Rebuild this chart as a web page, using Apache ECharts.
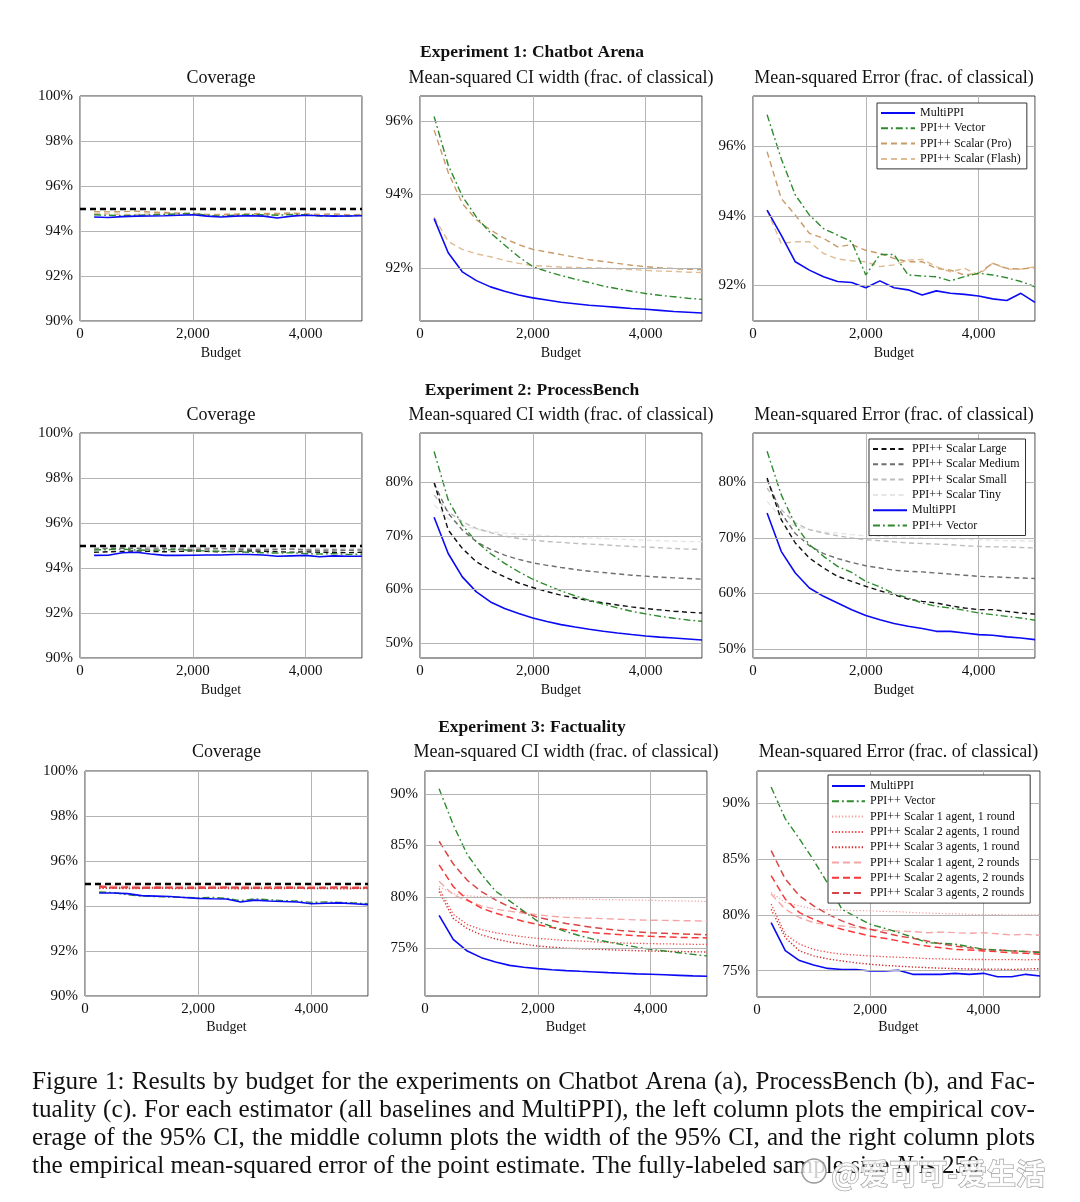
<!DOCTYPE html>
<html>
<head>
<meta charset="utf-8">
<script src="https://cdn.jsdelivr.net/npm/echarts@6/dist/echarts.min.js"></script>
<style>
html,body{margin:0;padding:0;background:#fff;}
#c{width:1080px;height:1202px;}
</style>
</head>
<body>
<div id="c"></div>
<script>
// ---------------- DATA ----------------
const budget = [250,500,750,1000,1250,1500,1750,2000,2250,2500,2750,3000,3250,3500,3750,4000,4250,4500,4750,5000];
const xTicks = [0,2000,4000];
const covTicks = [90,92,94,96,98,100];
const ci1Ticks = [92,94,96];
const mse1Ticks = [92,94,96];
const ci2Ticks = [50,60,70,80];
const mse2Ticks = [50,60,70,80];
const ci3Ticks = [75,80,85,90];
const mse3Ticks = [75,80,85,90];
const targetCoverage = 95;

// Experiment 1: Chatbot Arena
const cov1_multi  = [94.62,94.60,94.64,94.66,94.67,94.68,94.70,94.72,94.66,94.62,94.66,94.68,94.66,94.58,94.66,94.70,94.68,94.66,94.67,94.68];
const cov1_vector = [94.72,94.70,94.68,94.70,94.72,94.74,94.76,94.78,94.70,94.66,94.70,94.72,94.72,94.70,94.74,94.72,94.66,94.68,94.66,94.70];
const cov1_pro    = [94.86,94.85,94.86,94.88,94.84,94.82,94.80,94.78,94.74,94.72,94.74,94.76,94.78,94.78,94.80,94.76,94.74,94.76,94.72,94.74];
const cov1_flash  = [94.78,94.76,94.74,94.74,94.76,94.78,94.76,94.74,94.72,94.74,94.76,94.74,94.72,94.74,94.76,94.74,94.72,94.74,94.70,94.72];

const ci1_multi  = [93.34,92.41,91.89,91.65,91.48,91.36,91.26,91.18,91.12,91.06,91.02,90.98,90.95,90.92,90.89,90.87,90.84,90.81,90.79,90.77];
const ci1_vector = [96.12,94.80,93.95,93.38,92.95,92.62,92.30,92.03,91.90,91.79,91.69,91.60,91.50,91.43,91.36,91.30,91.25,91.21,91.17,91.14];
const ci1_pro    = [95.75,94.60,93.75,93.31,93.03,92.80,92.63,92.50,92.43,92.36,92.29,92.22,92.17,92.12,92.07,92.03,92.00,91.98,91.96,91.95];
const ci1_flash  = [93.38,92.72,92.50,92.38,92.30,92.20,92.12,92.06,92.04,92.02,92.01,92.00,91.99,91.97,91.95,91.93,91.91,91.90,91.88,91.87];

const mse1_multi  = [94.16,93.44,92.67,92.43,92.24,92.10,92.07,91.92,92.12,91.92,91.86,91.71,91.83,91.76,91.73,91.68,91.60,91.55,91.76,91.50];
const mse1_vector = [96.92,95.65,94.60,94.02,93.63,93.44,93.25,92.29,92.88,92.88,92.29,92.26,92.24,92.12,92.24,92.34,92.29,92.21,92.10,91.95];
const mse1_pro    = [95.85,94.50,94.02,93.49,93.35,93.10,93.17,93.00,92.91,92.77,92.67,92.67,92.48,92.43,92.29,92.34,92.63,92.48,92.46,92.50];
const mse1_flash  = [94.16,93.20,93.25,93.25,92.91,92.75,92.70,92.67,92.53,92.58,92.72,92.74,92.53,92.38,92.48,92.29,92.63,92.46,92.46,92.53];

// Experiment 2: ProcessBench
const cov2_large  = [94.70,94.72,94.74,94.76,94.74,94.72,94.74,94.76,94.74,94.72,94.74,94.76,94.74,94.72,94.70,94.72,94.70,94.70,94.68,94.70];
const cov2_medium = [94.84,94.86,94.88,94.86,94.84,94.86,94.84,94.82,94.84,94.86,94.84,94.82,94.80,94.82,94.84,94.80,94.78,94.80,94.78,94.80];
const cov2_small  = [94.88,94.90,94.88,94.90,94.92,94.90,94.88,94.90,94.88,94.86,94.88,94.86,94.84,94.86,94.84,94.82,94.84,94.82,94.82,94.84];
const cov2_tiny   = [94.90,94.92,94.92,94.94,94.92,94.92,94.90,94.92,94.92,94.90,94.90,94.88,94.90,94.88,94.86,94.88,94.86,94.86,94.85,94.86];
const cov2_multi  = [94.56,94.57,94.68,94.70,94.62,94.56,94.56,94.57,94.58,94.58,94.60,94.60,94.58,94.52,94.54,94.56,94.50,94.54,94.52,94.52];
const cov2_vector = [94.80,94.82,94.84,94.80,94.78,94.80,94.82,94.78,94.76,94.74,94.72,94.70,94.68,94.66,94.68,94.64,94.62,94.64,94.60,94.62];

const ci2_large  = [80.0,71.1,67.65,65.16,63.6,62.35,61.2,60.36,59.6,58.92,58.4,57.86,57.5,57.1,56.74,56.43,56.18,55.93,55.74,55.6];
const ci2_medium = [79.8,74.2,71.1,68.9,67.47,66.4,65.6,64.97,64.5,64.1,63.72,63.4,63.16,62.9,62.66,62.48,62.29,62.16,62.04,61.92];
const ci2_small  = [77.6,74.5,72.64,71.4,70.6,69.96,69.5,69.2,68.96,68.78,68.6,68.47,68.34,68.15,68.03,67.9,67.78,67.65,67.53,67.47];
const ci2_tiny   = [75.8,73.2,72.0,71.2,70.8,70.5,70.3,70.15,70.0,69.9,69.8,69.6,69.5,69.4,69.3,69.2,69.1,69.0,68.95,68.9];
const ci2_multi  = [73.46,66.7,62.35,59.55,57.67,56.43,55.5,54.68,54.0,53.43,52.98,52.56,52.2,51.87,51.58,51.31,51.1,50.94,50.75,50.56];
const ci2_vector = [85.75,76.7,72.0,68.9,66.7,64.85,63.3,61.9,60.8,59.73,58.8,57.98,57.24,56.55,55.93,55.43,54.99,54.62,54.3,54.05];

const mse2_large  = [80.8,73.3,69.1,66.4,64.6,63.1,62.2,61.3,60.5,59.8,59.0,58.6,58.3,57.8,57.4,57.1,57.1,56.8,56.5,56.3];
const mse2_medium = [80.5,74.5,70.8,68.6,67.2,66.3,65.6,65.0,64.6,64.2,64.0,63.9,63.7,63.5,63.3,63.1,63.0,62.9,62.8,62.7];
const mse2_small  = [79.0,75.1,72.7,71.5,70.9,70.4,70.0,69.7,69.5,69.3,69.1,69.0,68.9,68.8,68.6,68.5,68.4,68.4,68.3,68.2];
const mse2_tiny   = [76.6,73.6,72.1,71.5,71.1,70.9,70.6,70.4,70.3,70.2,70.1,70.0,69.9,69.8,69.8,69.7,69.6,69.5,69.5,69.4];
const mse2_multi  = [74.5,67.6,63.7,61.0,59.5,58.3,57.1,56.05,55.3,54.6,54.1,53.7,53.2,53.2,52.9,52.6,52.5,52.2,52.0,51.7];
const mse2_vector = [85.6,77.8,72.4,68.8,66.7,64.9,63.8,62.2,61.2,60.0,59.2,58.3,57.7,57.4,57.0,56.5,56.2,55.9,55.6,55.2];

// Experiment 3: Factuality
const cov3_multi  = [94.58,94.58,94.55,94.46,94.44,94.42,94.38,94.34,94.32,94.31,94.18,94.26,94.22,94.20,94.18,94.10,94.12,94.14,94.10,94.06];
const cov3_vector = [94.62,94.60,94.50,94.44,94.42,94.40,94.38,94.36,94.38,94.34,94.24,94.32,94.28,94.24,94.22,94.16,94.18,94.16,94.14,94.10];
const cov3_r1a1r  = [94.86,94.84,94.86,94.85,94.84,94.86,94.85,94.84,94.86,94.85,94.84,94.85,94.86,94.84,94.85,94.84,94.83,94.85,94.84,94.83];
const cov3_r2a1r  = [94.80,94.82,94.80,94.81,94.82,94.80,94.79,94.81,94.80,94.82,94.81,94.80,94.79,94.80,94.81,94.80,94.79,94.80,94.81,94.80];
const cov3_r3a1r  = [94.78,94.79,94.77,94.78,94.80,94.78,94.77,94.78,94.79,94.78,94.76,94.78,94.77,94.78,94.79,94.77,94.78,94.76,94.77,94.78];
const cov3_r1a2r  = [94.90,94.88,94.87,94.88,94.86,94.87,94.88,94.86,94.87,94.86,94.87,94.88,94.86,94.85,94.86,94.87,94.85,94.86,94.85,94.86];
const cov3_r2a2r  = [94.84,94.82,94.83,94.81,94.83,94.82,94.81,94.83,94.82,94.83,94.82,94.81,94.82,94.83,94.82,94.81,94.82,94.83,94.81,94.82];
const cov3_r3a2r  = [94.88,94.80,94.82,94.80,94.79,94.81,94.80,94.79,94.80,94.81,94.80,94.79,94.80,94.79,94.80,94.79,94.80,94.81,94.79,94.80];

const ci3_multi  = [78.19,75.86,74.72,74.08,73.66,73.33,73.14,73.01,72.9,72.82,72.75,72.69,72.62,72.56,72.5,72.46,72.41,72.36,72.31,72.27];
const ci3_vector = [90.5,87.0,84.1,82.2,80.55,79.6,78.6,77.6,77.1,76.6,76.2,75.86,75.6,75.34,75.1,74.9,74.72,74.56,74.4,74.24];
const ci3_r1a1r  = [81.0,80.3,80.1,80.0,79.95,79.9,79.88,79.85,79.82,79.8,79.78,79.75,79.72,79.7,79.68,79.65,79.62,79.6,79.58,79.55];
const ci3_r2a1r  = [80.8,78.3,77.3,76.8,76.5,76.3,76.1,75.95,75.85,75.75,75.7,75.62,75.56,75.5,75.47,75.44,75.42,75.4,75.38,75.37];
const ci3_r3a1r  = [80.5,77.9,76.9,76.3,75.9,75.6,75.4,75.2,75.1,75.0,74.95,74.9,74.85,74.8,74.76,74.72,74.7,74.68,74.65,74.63];
const ci3_r1a2r  = [81.5,80.2,79.6,79.1,78.8,78.6,78.4,78.25,78.1,78.0,77.95,77.9,77.85,77.8,77.75,77.72,77.7,77.68,77.66,77.64];
const ci3_r2a2r  = [83.1,81.0,79.7,78.9,78.4,78.0,77.6,77.3,77.0,76.8,76.65,76.5,76.4,76.3,76.22,76.15,76.1,76.05,76.02,76.0];
const ci3_r3a2r  = [85.4,83.2,81.6,80.5,79.7,79.0,78.5,78.0,77.7,77.4,77.2,77.0,76.85,76.7,76.6,76.5,76.45,76.4,76.35,76.3];

const mse3_multi  = [79.3,76.8,75.9,75.5,75.2,75.1,75.1,74.97,74.97,75.03,74.67,74.67,74.67,74.76,74.67,74.76,74.46,74.46,74.67,74.52];
const mse3_vector = [91.44,88.6,86.8,84.9,82.8,80.5,79.8,79.16,78.8,78.41,78.0,77.5,77.45,77.37,77.15,76.92,76.85,76.77,76.7,76.62];
const mse3_r1a1r  = [82.0,81.1,80.8,80.5,80.45,80.4,80.38,80.36,80.3,80.28,80.2,80.15,80.12,80.1,80.05,80.0,80.02,79.98,80.0,80.0];
const mse3_r2a1r  = [80.96,78.26,77.37,76.9,76.65,76.47,76.4,76.32,76.25,76.2,76.15,76.08,76.05,76.02,76.0,76.0,75.98,76.0,75.97,76.0];
const mse3_r3a1r  = [80.5,77.96,76.77,76.32,76.05,75.87,75.7,75.57,75.47,75.4,75.33,75.27,75.22,75.18,75.15,75.12,75.14,75.1,75.15,75.18];
const mse3_r1a2r  = [81.86,80.5,79.76,79.3,79.1,79.0,78.85,78.7,78.6,78.55,78.5,78.4,78.45,78.4,78.35,78.4,78.3,78.2,78.25,78.17];
const mse3_r2a2r  = [83.5,81.4,80.2,79.6,79.1,78.7,78.4,78.1,77.9,77.66,77.4,77.2,77.05,76.9,76.85,76.77,76.7,76.6,76.55,76.47];
const mse3_r3a2r  = [85.75,83.2,81.7,80.8,80.06,79.46,79.0,78.7,78.4,78.1,77.9,77.66,77.4,77.2,77.05,76.9,76.85,76.77,76.72,76.68];

const captionLines = [
  "Figure 1: Results by budget for the experiments on Chatbot Arena (a), ProcessBench (b), and Fac-",
  "tuality (c). For each estimator (all baselines and MultiPPI), the left column plots the empirical cov-",
  "erage of the 95% CI, the middle column plots the width of the 95% CI, and the right column plots"
];
const captionLast = ["the empirical mean-squared error of the point estimate. The fully-labeled sample size ", "N", " is 250."];

// ---------------- STYLES ----------------
const SERIF = '"Liberation Serif","DejaVu Serif",serif';
const names = {
  multi:'MultiPPI', vector:'PPI++ Vector', pro:'PPI++ Scalar (Pro)', flash:'PPI++ Scalar (Flash)',
  large:'PPI++ Scalar Large', medium:'PPI++ Scalar Medium', small:'PPI++ Scalar Small', tiny:'PPI++ Scalar Tiny',
  r1a1r:'PPI++ Scalar 1 agent, 1 round', r2a1r:'PPI++ Scalar 2 agents, 1 round', r3a1r:'PPI++ Scalar 3 agents, 1 round',
  r1a2r:'PPI++ Scalar 1 agent, 2 rounds', r2a2r:'PPI++ Scalar 2 agents, 2 rounds', r3a2r:'PPI++ Scalar 3 agents, 2 rounds'
};
const styles = {
  multi:{color:'#0a0af5', width:1.6, type:'solid'},
  vector:{color:'#2f8a2f', width:1.4, type:[7,3,1.8,3]},
  pro:{color:'#c99a68', width:1.4, type:[6,4]},
  flash:{color:'#dfbc94', width:1.4, type:[6,4]},
  large:{color:'#111111', width:1.4, type:[5,3.5]},
  medium:{color:'#6e6e6e', width:1.4, type:[5,3.5]},
  small:{color:'#bdbdbd', width:1.4, type:[5,3.5]},
  tiny:{color:'#e6e6e6', width:1.4, type:[5,3.5]},
  r1a1r:{color:'#f3a2a2', width:1.2, type:[1.3,2]},
  r2a1r:{color:'#ee4a4a', width:1.3, type:[1.3,2]},
  r3a1r:{color:'#cf2a2a', width:1.4, type:[1.3,2]},
  r1a2r:{color:'#f5a5a5', width:1.4, type:[7,4]},
  r2a2r:{color:'#fa3838', width:1.5, type:[7,4]},
  r3a2r:{color:'#d84646', width:1.5, type:[7,4]}
};

// ---------------- PANELS ----------------
const panels = [
  {left:80, top:96, width:282, height:225, min:90, max:100, ticks:covTicks, cov:true,
   s:[['flash',cov1_flash],['pro',cov1_pro],['vector',cov1_vector],['multi',cov1_multi]]},
  {left:420, top:96, width:282, height:225, min:90.55, max:96.68, ticks:ci1Ticks,
   s:[['flash',ci1_flash],['pro',ci1_pro],['vector',ci1_vector],['multi',ci1_multi]]},
  {left:753, top:96, width:282, height:225, min:90.96, max:97.46, ticks:mse1Ticks,
   s:[['flash',mse1_flash],['pro',mse1_pro],['vector',mse1_vector],['multi',mse1_multi]]},
  {left:80, top:433, width:282, height:225, min:90, max:100, ticks:covTicks, cov:true,
   s:[['tiny',cov2_tiny],['small',cov2_small],['medium',cov2_medium],['large',cov2_large],['vector',cov2_vector],['multi',cov2_multi]]},
  {left:420, top:433, width:282, height:225, min:47.2, max:89.2, ticks:ci2Ticks,
   s:[['tiny',ci2_tiny],['small',ci2_small],['medium',ci2_medium],['large',ci2_large],['vector',ci2_vector],['multi',ci2_multi]]},
  {left:753, top:433, width:282, height:225, min:48.4, max:88.9, ticks:mse2Ticks,
   s:[['tiny',mse2_tiny],['small',mse2_small],['medium',mse2_medium],['large',mse2_large],['vector',mse2_vector],['multi',mse2_multi]]},
  {left:85, top:771, width:283, height:225, min:90, max:100, ticks:covTicks, cov:true,
   s:[['r1a1r',cov3_r1a1r],['r2a1r',cov3_r2a1r],['r3a1r',cov3_r3a1r],['r1a2r',cov3_r1a2r],['r2a2r',cov3_r2a2r],['r3a2r',cov3_r3a2r],['vector',cov3_vector],['multi',cov3_multi]]},
  {left:425, top:771, width:282, height:225, min:70.35, max:92.23, ticks:ci3Ticks,
   s:[['r1a1r',ci3_r1a1r],['r2a1r',ci3_r2a1r],['r3a1r',ci3_r3a1r],['r1a2r',ci3_r1a2r],['r2a2r',ci3_r2a2r],['r3a2r',ci3_r3a2r],['vector',ci3_vector],['multi',ci3_multi]]},
  {left:757, top:771, width:283, height:226, min:72.64, max:92.88, ticks:mse3Ticks,
   s:[['r1a1r',mse3_r1a1r],['r2a1r',mse3_r2a1r],['r3a1r',mse3_r3a1r],['r1a2r',mse3_r1a2r],['r2a2r',mse3_r2a2r],['r3a2r',mse3_r3a2r],['vector',mse3_vector],['multi',mse3_multi]]}
];

const grids=[], xAxes=[], yAxes=[], series=[];
panels.forEach((p,i)=>{
  grids.push({left:p.left, top:p.top, width:p.width, height:p.height, show:true, borderColor:'#3a3a3a', borderWidth:1, backgroundColor:'transparent'});
  xAxes.push({gridIndex:i, type:'value', min:0, max:5000, interval:2000,
    axisLine:{show:false}, axisTick:{show:false},
    splitLine:{show:true, lineStyle:{color:'#b4b4b4', width:1}},
    axisLabel:{customValues:xTicks, margin:6, fontSize:15, fontFamily:SERIF, color:'#111',
      formatter:v=> v===0 ? '0' : Number(v).toLocaleString('en-US')}});
  yAxes.push({gridIndex:i, type:'value', min:p.min, max:p.max,
    axisLine:{show:false}, axisTick:{show:false}, splitLine:{show:false},
    axisLabel:{customValues:p.ticks, margin:7, fontSize:15, fontFamily:SERIF, color:'#111', formatter:v=>v+'%'}});
  series.push({type:'line', name:'_grid'+i, xAxisIndex:i, yAxisIndex:i, data:[], silent:true, z:1, animation:false,
    markLine:{silent:true, symbol:'none', animation:false, label:{show:false},
      lineStyle:{color:'#b4b4b4', width:1, type:'solid'}, data:p.ticks.map(v=>({yAxis:v}))}});
  p.s.forEach(([k,arr])=>{
    const st = styles[k];
    series.push({type:'line', name:names[k], xAxisIndex:i, yAxisIndex:i, symbol:'none', showSymbol:false,
      silent:true, animation:false, z:3,
      data: budget.map((b,j)=>[b,arr[j]]),
      lineStyle:{color:st.color, width:st.width, type:st.type},
      itemStyle:{color:st.color}});
  });
  if(p.cov){
    series.push({type:'line', name:'_target'+i, xAxisIndex:i, yAxisIndex:i, data:[], silent:true, z:4, animation:false,
      markLine:{silent:true, symbol:'none', animation:false, label:{show:false},
        lineStyle:{color:'#000', width:2.3, type:[6,4]}, data:[{yAxis:targetCoverage}]}});
  }
});

const legendBase = {orient:'vertical', backgroundColor:'#fff', borderColor:'#333', borderWidth:1,
  zlevel:2, z:20,
  itemWidth:34, itemHeight:10, itemGap:3.3, selectedMode:false,
  itemStyle:{opacity:0, borderWidth:0},
  textStyle:{fontFamily:SERIF, fontSize:12, color:'#111'}};
const legends = [
  Object.assign({}, legendBase, {left:877, top:103, padding:[4,6,4,3], data:['MultiPPI','PPI++ Vector','PPI++ Scalar (Pro)','PPI++ Scalar (Flash)']}),
  Object.assign({}, legendBase, {left:869, top:439, padding:[4,6,4,3], data:['PPI++ Scalar Large','PPI++ Scalar Medium','PPI++ Scalar Small','PPI++ Scalar Tiny','MultiPPI','PPI++ Vector']}),
  Object.assign({}, legendBase, {left:828, top:775, padding:[5,6,4,3], itemWidth:33, data:['MultiPPI','PPI++ Vector',names.r1a1r,names.r2a1r,names.r3a1r,names.r1a2r,names.r2a2r,names.r3a2r]})
];

// ---------------- TEXT ----------------
const graphics = [];
function txt(x,y,t,font,extra){
  graphics.push(Object.assign({type:'text', x:x, y:y, silent:true, z:10,
    style:{text:t, font:font, fill:'#111', align:'center', verticalAlign:'middle'}}, extra||{}));
}
const expTitles = [['Experiment 1: Chatbot Arena',52],['Experiment 2: ProcessBench',390],['Experiment 3: Factuality',727]];
expTitles.forEach(([t,y])=>txt(532,y,t,'bold 17.5px '+SERIF));
const panelTitles = ['Coverage','Mean-squared CI width (frac. of classical)','Mean-squared Error (frac. of classical)'];
const titleY = [78,415,752], budgetY = [353,690,1027];
panels.forEach((p,i)=>{
  const r = Math.floor(i/3), c = i%3;
  const cx = p.left + p.width/2;
  txt(cx, titleY[r], panelTitles[c], '18px '+SERIF);
  txt(cx, budgetY[r], 'Budget', '14px '+SERIF);
});

// caption with justification
const mctx = document.createElement('canvas').getContext('2d');
function measure(t,font){ mctx.font = font; return mctx.measureText(t).width; }
let fs = 24;
const lastW = measure(captionLast[0]+captionLast[1]+captionLast[2], fs+'px '+SERIF);
fs = Math.max(20, Math.min(26, fs*956/lastW));
const capFont = fs.toFixed(2)+'px '+SERIF;
const capX0 = 32, capX1 = 1035, capY = [1082,1110,1138,1166];
captionLines.forEach((line,li)=>{
  const words = line.split(' ');
  const ws = words.map(w=>measure(w,capFont));
  const sum = ws.reduce((a,b)=>a+b,0);
  const gap = (capX1-capX0-sum)/(words.length-1);
  let x = capX0;
  words.forEach((w,k)=>{
    graphics.push({type:'text', x:x, y:capY[li], silent:true, z:10,
      style:{text:w, font:capFont, fill:'#111', align:'left', verticalAlign:'middle'}});
    x += ws[k]+gap;
  });
});
graphics.push({type:'text', x:capX0, y:capY[3], silent:true, z:10,
  style:{text:'{a|'+captionLast[0]+'}{i|'+captionLast[1]+'}{a|'+captionLast[2]+'}',
    align:'left', verticalAlign:'middle',
    rich:{a:{font:capFont, fill:'#111'}, i:{font:'italic '+capFont, fill:'#111'}}}});
// watermark
graphics.push({type:'circle', shape:{cx:814, cy:1171, r:12}, silent:true, z:11,
  style:{fill:'rgba(255,255,255,0.8)', stroke:'#9a9a9a', lineWidth:1.5}});
graphics.push({type:'text', x:831, y:1174, silent:true, z:11,
  style:{text:'@爱可可-爱生活', font:'bold 29px "Noto Sans CJK SC"', fill:'rgba(255,255,255,0.85)',
    stroke:'#9a9a9a', lineWidth:1.2, align:'left', verticalAlign:'middle'}});

const chart = echarts.init(document.getElementById('c'), null, {renderer:'canvas'});
chart.setOption({
  animation:false,
  backgroundColor:'#ffffff',
  grid:grids, xAxis:xAxes, yAxis:yAxes, legend:legends, series:series, graphic:graphics
});
</script>
</body>
</html>
